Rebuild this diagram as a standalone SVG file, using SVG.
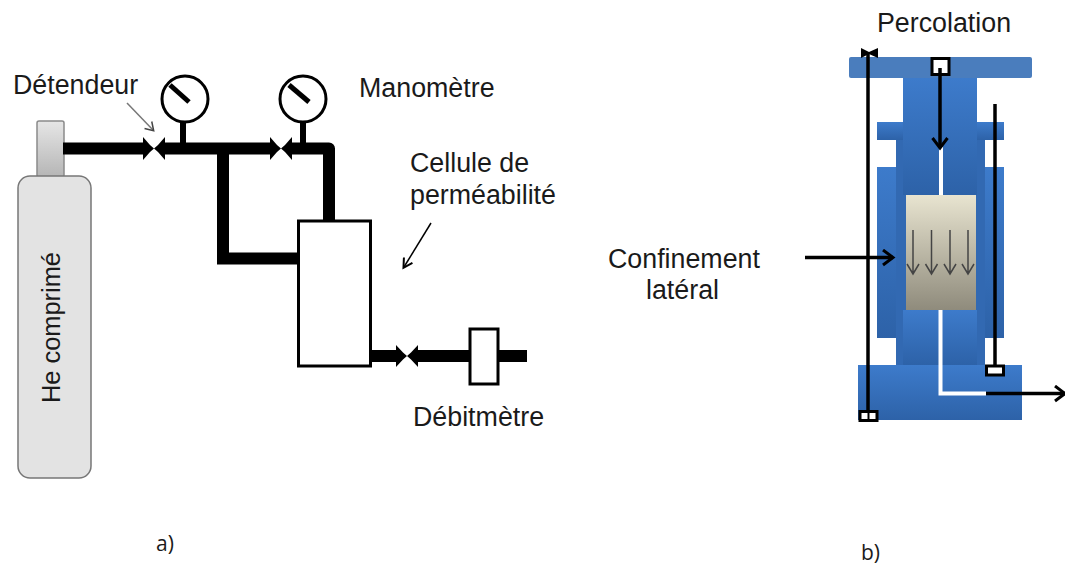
<svg xmlns="http://www.w3.org/2000/svg" width="1065" height="568" viewBox="0 0 1065 568">
<style>
text{font-family:"Liberation Sans",Arial,sans-serif;font-size:26.800px;fill:#1a1a1a}
.lab{font-family:"Open Sans","Liberation Sans",sans-serif;font-size:21px;font-weight:500}
.pipe{fill:none;stroke:#000;stroke-width:12}
.thin{fill:none;stroke:#000;stroke-width:3.500}
.box{fill:#fff;stroke:#000;stroke-width:3}
.gauge{fill:#fff;stroke:#000;stroke-width:3}
.needle{stroke:#000;stroke-width:5}
.stem{stroke:#000;stroke-width:6}
.v{fill:#000}
.blue{fill:url(#bl)}
</style>
<defs>
<linearGradient id="bl" x1="0" y1="0" x2="0" y2="1"><stop offset="0" stop-color="#3d7bcb"/><stop offset="1" stop-color="#2d62a8"/></linearGradient>
<linearGradient id="neck" x1="0" y1="0" x2="0" y2="1"><stop offset="0" stop-color="#e6e6e6"/><stop offset="1" stop-color="#b5b5b5"/></linearGradient>
<linearGradient id="sample" x1="0" y1="0" x2="0" y2="1"><stop offset="0" stop-color="#e8e4d0"/><stop offset="1" stop-color="#8f8b7c"/></linearGradient>
<marker id="ah" markerWidth="16" markerHeight="18" refX="12" refY="9" orient="auto" markerUnits="userSpaceOnUse"><path d="M2 1.500L12 9L2 16.500" fill="none" stroke="#000" stroke-width="3"/></marker>
<marker id="ahm" markerWidth="12" markerHeight="12" refX="9" refY="6" orient="auto" markerUnits="userSpaceOnUse"><path d="M1 1L10 6L1 11" fill="none" stroke="#000" stroke-width="2"/></marker>
<marker id="ahs" markerWidth="12" markerHeight="12" refX="9" refY="6" orient="auto" markerUnits="userSpaceOnUse"><path d="M2 1L10 6L2 11" fill="none" stroke="#444" stroke-width="1.500"/></marker>
</defs>

<g id="bouteille">
<rect x="37" y="121" width="27" height="56" rx="2" fill="url(#neck)" stroke="#8a8a8a" stroke-width="1.500"/>
<rect x="18" y="176" width="73" height="302" rx="12" fill="#e3e3e3" stroke="#777" stroke-width="1.500"/>
<text transform="translate(60,403) rotate(-90)" style="font-size:25.400px">He comprimé</text>
</g>

<g id="cellule-b">
<rect class="blue" x="877" y="122" width="127" height="18"/>
<rect class="blue" x="877" y="167" width="127" height="171"/>
<rect x="896" y="140" width="89" height="225" fill="#3269b2"/>
<rect class="blue" x="903" y="78" width="74" height="117"/>
<rect class="blue" x="903" y="310" width="74" height="55"/>
<rect x="849" y="57" width="183" height="21" rx="2" fill="#4a7dbd"/>
<rect class="blue" x="858" y="365" width="164" height="55"/>
<rect x="906" y="195" width="70" height="115" fill="url(#sample)"/>
<path d="M941 147V195" stroke="#fff" stroke-width="4" fill="none"/>
<path d="M940.500 310V393.500H986" stroke="#fff" stroke-width="4" fill="none"/>
<rect x="932" y="58.500" width="17" height="16" fill="#fff" stroke="#000" stroke-width="3"/>
<g stroke="#444" stroke-width="1.500" fill="none">
<path d="M913 230V274M907 264L913 274L919 264"/>
<path d="M931.500 230V274M925.500 264L931.500 274L937.500 264"/>
<path d="M950 230V274M944 264L950 274L956 264"/>
<path d="M968 230V274M962 264L968 274L974 264"/>
</g>
</g>

<g id="connecteurs">
<path class="pipe" d="M63 148.500H329V220" stroke-linejoin="round"/>
<path class="pipe" d="M223 150V258.500H298"/>
<path class="pipe" d="M371 356H527"/>
<path class="stem" d="M183 120V146M303 120V146"/>
<path class="thin" d="M868 52V412"/>
<path class="thin" d="M995 104V366"/>
<path class="thin" d="M940 68V148" marker-end="url(#ah)"/>
<path class="thin" d="M805 257.500H893" marker-end="url(#ah)"/>
<path class="thin" d="M986 393.500H1065" marker-end="url(#ah)"/>
<path fill="none" stroke="#777" stroke-width="1.500" d="M127 103L153 130" marker-end="url(#ahs)"/>
<path fill="none" stroke="#000" stroke-width="1.500" d="M431 223L404 267" marker-end="url(#ahm)"/>
</g>

<g id="detendeur"><rect x="145" y="142" width="18" height="13" fill="#fff"/><path class="v" d="M143 137L150 145L154 148.500L158 145L165 137V160L158 152L154 148.500L150 152L143 160Z"/></g>
<g id="vanne-2"><rect x="272" y="142" width="18" height="13" fill="#fff"/><path class="v" d="M270 137L277 145L281 148.500L285 145L292 137V160L285 152L281 148.500L277 152L270 160Z"/></g>
<g id="vanne-3"><rect x="398" y="349" width="18" height="14" fill="#fff"/><path class="v" d="M396 345L403 352.500L407 356L411 352.500L418 345V367L411 359.500L407 356L403 359.500L396 367Z"/></g>

<g id="manometre-1"><circle class="gauge" cx="185" cy="99" r="23"/><path class="needle" d="M170 85L189 102"/></g>
<g id="manometre-2"><circle class="gauge" cx="303" cy="99" r="23"/><path class="needle" d="M289 85L309 102"/></g>

<g id="cellule"><rect class="box" x="298.500" y="221" width="72" height="145"/></g>
<g id="debitmetre"><rect class="box" x="470" y="329" width="28" height="55"/></g>

<g id="fixations">
<path class="v" d="M861 48L869 52L878 48V58L869 54L861 58Z"/>
<rect class="box" x="860" y="411.500" width="17" height="9"/><path d="M868.500 411V421" stroke="#000" stroke-width="2"/>
<rect class="box" x="986.500" y="366" width="17" height="9"/>
</g>

<g id="textes">
<text x="13" y="94">Détendeur</text>
<text x="359" y="97">Manomètre</text>
<text x="410" y="172">Cellule de</text>
<text x="410" y="204">perméabilité</text>
<text x="413" y="426">Débitmètre</text>
<text x="877" y="32">Percolation</text>
<text x="608" y="268">Confinement</text>
<text x="646" y="299">latéral</text>
<text class="lab" x="156" y="551">a)</text>
<text class="lab" x="861" y="560">b)</text>
</g>
</svg>
